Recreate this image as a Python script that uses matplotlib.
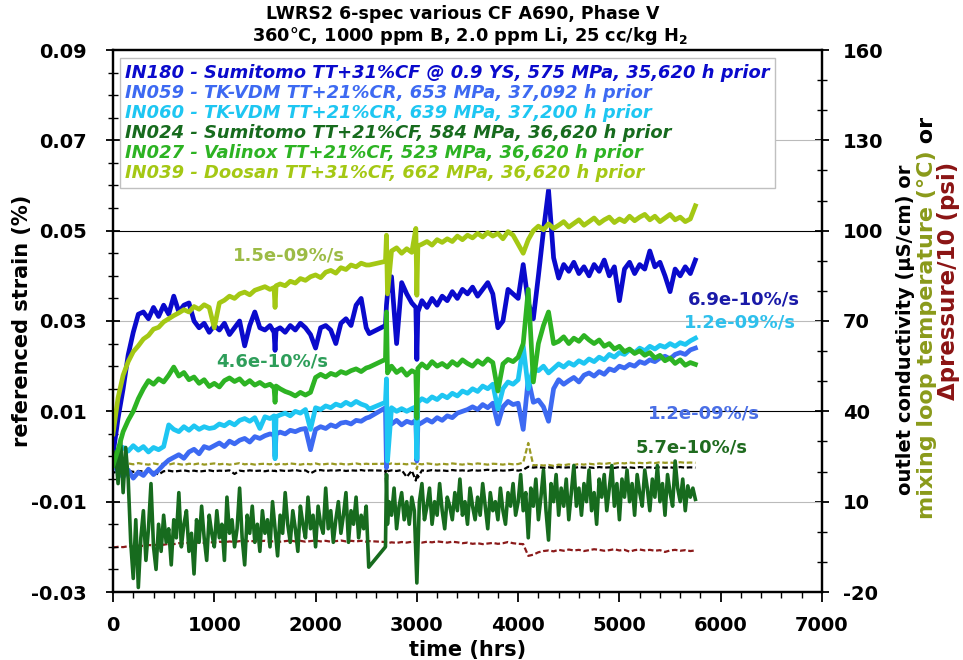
import matplotlib
matplotlib.use("Agg")
import matplotlib.pyplot as plt
from matplotlib.lines import Line2D
from matplotlib.ticker import MultipleLocator

plt.rcParams["font.family"] = ["DejaVu Sans"]
plt.rcParams["axes.unicode_minus"] = False

# ---------------------------------------------------------------- data
hours = [
    0, 50, 100, 150, 200, 250, 300, 350, 400, 450,
    500, 550, 600, 650, 700, 750, 800, 850, 900, 950,
    1000, 1050, 1100, 1150, 1200, 1250, 1300, 1350, 1400, 1450,
    1500, 1550, 1590, 1600, 1610, 1650, 1700, 1750, 1800, 1850,
    1900, 1950, 2000, 2050, 2100, 2150, 2200, 2250, 2300, 2350,
    2400, 2450, 2500, 2530, 2690, 2700, 2710, 2750, 2800, 2850,
    2900, 2950, 2990, 3000, 3010, 3050, 3100, 3150, 3200, 3250,
    3300, 3350, 3400, 3450, 3500, 3550, 3600, 3650, 3700, 3750,
    3800, 3850, 3900, 3950, 4000, 4050, 4100, 4150, 4200, 4250,
    4300, 4350, 4400, 4450, 4500, 4550, 4600, 4650, 4700, 4750,
    4800, 4850, 4900, 4950, 5000, 5050, 5100, 5150, 5200, 5250,
    5300, 5350, 5400, 5450, 5500, 5550, 5600, 5650, 5700, 5750,
]

# IN024 is logged on a finer time step
hours_in024 = [
    0, 25, 50, 75, 100, 125, 150, 175, 200, 225,
    250, 275, 300, 325, 350, 375, 400, 425, 450, 475,
    500, 525, 550, 575, 600, 625, 650, 675, 700, 725,
    750, 775, 800, 825, 850, 875, 900, 925, 950, 975,
    1000, 1025, 1050, 1075, 1100, 1125, 1150, 1175, 1200, 1225,
    1250, 1275, 1300, 1325, 1350, 1375, 1400, 1425, 1450, 1475,
    1500, 1525, 1550, 1575, 1600, 1625, 1650, 1675, 1700, 1725,
    1750, 1775, 1800, 1825, 1850, 1875, 1900, 1925, 1950, 1975,
    2000, 2025, 2050, 2075, 2100, 2125, 2150, 2175, 2200, 2225,
    2250, 2275, 2300, 2325, 2350, 2375, 2400, 2425, 2450, 2475,
    2500, 2525, 2690, 2700, 2710, 2725, 2750, 2775, 2800, 2825,
    2850, 2875, 2900, 2925, 2950, 2975, 3000, 3025, 3050, 3075,
    3100, 3125, 3150, 3175, 3200, 3225, 3250, 3275, 3300, 3325,
    3350, 3375, 3400, 3425, 3450, 3475, 3500, 3525, 3550, 3575,
    3600, 3625, 3650, 3675, 3700, 3725, 3750, 3775, 3800, 3825,
    3850, 3875, 3900, 3925, 3950, 3975, 4000, 4025, 4050, 4075,
    4100, 4125, 4150, 4175, 4200, 4225, 4250, 4275, 4300, 4325,
    4350, 4375, 4400, 4425, 4450, 4475, 4500, 4525, 4550, 4575,
    4600, 4625, 4650, 4675, 4700, 4725, 4750, 4775, 4800, 4825,
    4850, 4875, 4900, 4925, 4950, 4975, 5000, 5025, 5050, 5075,
    5100, 5125, 5150, 5175, 5200, 5225, 5250, 5275, 5300, 5325,
    5350, 5375, 5400, 5425, 5450, 5475, 5500, 5525, 5550, 5575,
    5600, 5625, 5650, 5675, 5700, 5725, 5750,
]

# referenced strain (%)
in180 = [
    0.0005, 0.0085, 0.0150, 0.0225, 0.0275, 0.0315, 0.0320, 0.0305, 0.0330, 0.0310,
    0.0335, 0.0315, 0.0355, 0.0320, 0.0335, 0.0340, 0.0300, 0.0285, 0.0295, 0.0275,
    0.0290, 0.0280, 0.0295, 0.0270, 0.0285, 0.0300, 0.0245, 0.0290, 0.0320, 0.0285,
    0.0280, 0.0290, 0.0275, 0.0235, 0.0280, 0.0285, 0.0275, 0.0290, 0.0280, 0.0295,
    0.0285, 0.0270, 0.0240, 0.0285, 0.0290, 0.0280, 0.0250, 0.0295, 0.0305, 0.0290,
    0.0335, 0.0350, 0.0285, 0.0272, 0.0290, 0.0335, 0.0360, 0.0398, 0.0250, 0.0385,
    0.0360, 0.0340, 0.0330, 0.0215, 0.0320, 0.0345, 0.0330, 0.0350, 0.0335, 0.0355,
    0.0345, 0.0365, 0.0350, 0.0370, 0.0360, 0.0375, 0.0355, 0.0370, 0.0385, 0.0360,
    0.0285, 0.0300, 0.0370, 0.0360, 0.0350, 0.0425, 0.0340, 0.0305, 0.0400, 0.0500,
    0.0590, 0.0440, 0.0395, 0.0425, 0.0410, 0.0430, 0.0405, 0.0420, 0.0400, 0.0425,
    0.0410, 0.0435, 0.0400, 0.0420, 0.0345, 0.0415, 0.0430, 0.0405, 0.0425, 0.0415,
    0.0455, 0.0420, 0.0430, 0.0400, 0.0365, 0.0415, 0.0400, 0.0420, 0.0405, 0.0435,
]
in059 = [
    -0.0015, -0.0035, -0.0045, -0.0030, -0.0048, -0.0035, -0.0042, -0.0028, -0.0040, -0.0030,
    -0.0018, -0.0008, -0.0002, 0.0004, -0.0004, 0.0010, 0.0016, 0.0006, 0.0022, 0.0018,
    0.0024, 0.0030, 0.0022, 0.0034, 0.0028, 0.0036, 0.0040, 0.0032, 0.0044, 0.0040,
    0.0046, 0.0050, 0.0048, 0.0000, 0.0050, 0.0054, 0.0050, 0.0058, 0.0055, 0.0060,
    0.0062, 0.0015, 0.0060, 0.0066, 0.0062, 0.0070, 0.0066, 0.0074, 0.0076, 0.0072,
    0.0080, 0.0078, 0.0085, 0.0087, 0.0108, -0.0025, 0.0080, 0.0072, 0.0080, 0.0070,
    0.0078, 0.0074, 0.0080, -0.0010, 0.0070, 0.0075, 0.0082, 0.0076, 0.0086, 0.0080,
    0.0090, 0.0086, 0.0096, 0.0100, 0.0104, 0.0110, 0.0104, 0.0115, 0.0108, 0.0118,
    0.0072, 0.0110, 0.0122, 0.0115, 0.0118, 0.0060, 0.0172, 0.0120, 0.0125, 0.0110,
    0.0078, 0.0150, 0.0170, 0.0160, 0.0168, 0.0175, 0.0165, 0.0180, 0.0185, 0.0178,
    0.0188, 0.0182, 0.0194, 0.0190, 0.0200, 0.0196, 0.0204, 0.0200, 0.0210, 0.0206,
    0.0214, 0.0210, 0.0218, 0.0222, 0.0216, 0.0226, 0.0230, 0.0226, 0.0236, 0.0240,
]
in060 = [
    0.0005, 0.0010, 0.0020, 0.0012, 0.0024, 0.0014, 0.0022, 0.0010, 0.0020, 0.0015,
    0.0022, 0.0070, 0.0060, 0.0055, 0.0066, 0.0058, 0.0068, 0.0060, 0.0066, 0.0062,
    0.0064, 0.0072, 0.0068, 0.0076, 0.0070, 0.0080, 0.0084, 0.0078, 0.0086, 0.0062,
    0.0088, 0.0084, 0.0090, -0.0005, 0.0088, 0.0092, 0.0096, 0.0090, 0.0100, 0.0096,
    0.0104, 0.0060, 0.0108, 0.0104, 0.0112, 0.0108, 0.0116, 0.0112, 0.0120, 0.0114,
    0.0122, 0.0116, 0.0112, 0.0105, 0.0120, 0.0172, -0.0010, 0.0108, 0.0100, 0.0106,
    0.0100, 0.0106, 0.0110, -0.0005, 0.0120, 0.0128, 0.0122, 0.0132, 0.0126, 0.0136,
    0.0130, 0.0140, 0.0134, 0.0145, 0.0140, 0.0150, 0.0144, 0.0156, 0.0150, 0.0160,
    0.0105, 0.0150, 0.0165, 0.0160, 0.0170, 0.0245, 0.0150, 0.0195, 0.0190, 0.0200,
    0.0185, 0.0195, 0.0205, 0.0198, 0.0208, 0.0202, 0.0212, 0.0206, 0.0216, 0.0210,
    0.0220, 0.0214, 0.0226, 0.0220, 0.0230, 0.0226, 0.0236, 0.0230, 0.0240, 0.0234,
    0.0244, 0.0238, 0.0246, 0.0242, 0.0250, 0.0244, 0.0252, 0.0248, 0.0256, 0.0262,
]
in024 = [
    -0.0020, 0.0010, -0.0060, 0.0040, -0.0080, 0.0020, -0.0050, -0.0190, -0.0270, -0.0140,
    -0.0290, -0.0180, -0.0120, -0.0230, -0.0160, -0.0060, -0.0200, -0.0250, -0.0150, -0.0210,
    -0.0130, -0.0190, -0.0160, -0.0240, -0.0140, -0.0180, -0.0080, -0.0200, -0.0150, -0.0120,
    -0.0210, -0.0170, -0.0260, -0.0140, -0.0190, -0.0110, -0.0180, -0.0230, -0.0130, -0.0170,
    -0.0200, -0.0120, -0.0180, -0.0150, -0.0230, -0.0090, -0.0170, -0.0140, -0.0200, -0.0160,
    -0.0070, -0.0180, -0.0240, -0.0130, -0.0170, -0.0110, -0.0190, -0.0150, -0.0210, -0.0120,
    -0.0170, -0.0140, -0.0200, -0.0100, -0.0160, -0.0220, -0.0130, -0.0170, -0.0080, -0.0150,
    -0.0190, -0.0120, -0.0160, -0.0210, -0.0110, -0.0150, -0.0180, -0.0090, -0.0160, -0.0130,
    -0.0200, -0.0110, -0.0150, -0.0170, -0.0070, -0.0160, -0.0120, -0.0190, -0.0140, -0.0100,
    -0.0170, -0.0130, -0.0080, -0.0190, -0.0120, -0.0150, -0.0090, -0.0180, -0.0130, -0.0160,
    -0.0110, -0.0245, -0.0200, -0.0040, -0.0150, -0.0100, -0.0130, -0.0070, -0.0160, -0.0110,
    -0.0080, -0.0140, -0.0100, -0.0150, -0.0090, -0.0120, -0.0280, -0.0100, -0.0060, -0.0140,
    -0.0110, -0.0070, -0.0150, -0.0100, -0.0130, -0.0060, -0.0120, -0.0160, -0.0090, -0.0110,
    -0.0140, -0.0080, -0.0120, -0.0050, -0.0130, -0.0100, -0.0150, -0.0070, -0.0110, -0.0140,
    -0.0090, -0.0130, -0.0060, -0.0110, -0.0160, -0.0080, -0.0120, -0.0100, -0.0140, -0.0070,
    -0.0120, -0.0150, -0.0080, -0.0110, -0.0060, -0.0130, -0.0100, -0.0040, -0.0120, -0.0080,
    -0.0180, -0.0070, -0.0110, -0.0050, -0.0140, -0.0090, -0.0030, -0.0120, -0.0185, -0.0060,
    -0.0100, -0.0040, -0.0130, -0.0070, -0.0110, -0.0050, -0.0140, -0.0080, -0.0020, -0.0110,
    -0.0070, -0.0130, -0.0060, -0.0100, -0.0030, -0.0120, -0.0080, -0.0150, -0.0050, -0.0090,
    -0.0040, -0.0120, -0.0070, -0.0020, -0.0110, -0.0060, -0.0140, -0.0050, -0.0090, -0.0030,
    -0.0100, -0.0060, -0.0130, -0.0040, -0.0080, -0.0110, -0.0030, -0.0070, -0.0120, -0.0050,
    -0.0090, -0.0020, -0.0100, -0.0060, -0.0130, -0.0040, -0.0080, -0.0110, -0.0010, -0.0070,
    -0.0100, -0.0050, -0.0120, -0.0065, -0.0090, -0.0070, -0.0095,
]
in027 = [
    -0.0020, 0.0015, 0.0055, 0.0080, 0.0100, 0.0128, 0.0150, 0.0168, 0.0160, 0.0172,
    0.0165, 0.0180, 0.0198, 0.0178, 0.0186, 0.0170, 0.0176, 0.0162, 0.0170, 0.0155,
    0.0162, 0.0154, 0.0168, 0.0174, 0.0166, 0.0172, 0.0160, 0.0168, 0.0158, 0.0164,
    0.0156, 0.0160, 0.0152, 0.0120, 0.0156, 0.0150, 0.0144, 0.0140, 0.0134, 0.0142,
    0.0136, 0.0142, 0.0175, 0.0182, 0.0176, 0.0184, 0.0180, 0.0188, 0.0184, 0.0190,
    0.0194, 0.0188, 0.0196, 0.0198, 0.0215, 0.0320, 0.0185, 0.0200, 0.0186, 0.0194,
    0.0180, 0.0190, 0.0185, 0.0085, 0.0195, 0.0205, 0.0196, 0.0210, 0.0200, 0.0206,
    0.0198, 0.0210, 0.0202, 0.0214, 0.0206, 0.0200, 0.0212, 0.0204, 0.0216, 0.0208,
    0.0145, 0.0205, 0.0215, 0.0210, 0.0220, 0.0250, 0.0370, 0.0165, 0.0250, 0.0290,
    0.0320, 0.0250, 0.0255, 0.0265, 0.0250, 0.0262, 0.0255, 0.0268, 0.0258, 0.0250,
    0.0258, 0.0244, 0.0250, 0.0238, 0.0244, 0.0232, 0.0238, 0.0228, 0.0234, 0.0224,
    0.0230, 0.0218, 0.0224, 0.0212, 0.0218, 0.0206, 0.0214, 0.0202, 0.0208, 0.0204,
]
in039 = [
    0.0050, 0.0130, 0.0180, 0.0210, 0.0232, 0.0245, 0.0260, 0.0268, 0.0282, 0.0286,
    0.0298, 0.0305, 0.0312, 0.0318, 0.0325, 0.0320, 0.0332, 0.0326, 0.0336, 0.0330,
    0.0285, 0.0340, 0.0346, 0.0355, 0.0350, 0.0360, 0.0364, 0.0358, 0.0368, 0.0372,
    0.0376, 0.0370, 0.0374, 0.0330, 0.0378, 0.0382, 0.0378, 0.0388, 0.0384, 0.0394,
    0.0390, 0.0398, 0.0402, 0.0396, 0.0408, 0.0412, 0.0406, 0.0418, 0.0414, 0.0424,
    0.0420, 0.0428, 0.0424, 0.0424, 0.0432, 0.0490, 0.0360, 0.0455, 0.0462, 0.0450,
    0.0460, 0.0452, 0.0505, 0.0357, 0.0466, 0.0470, 0.0476, 0.0468, 0.0480, 0.0474,
    0.0482, 0.0476, 0.0488, 0.0480, 0.0490, 0.0484, 0.0494, 0.0486, 0.0496, 0.0488,
    0.0494, 0.0482, 0.0498, 0.0490, 0.0470, 0.0450, 0.0480, 0.0500, 0.0510, 0.0502,
    0.0515, 0.0505, 0.0512, 0.0520, 0.0508, 0.0516, 0.0524, 0.0512, 0.0520, 0.0528,
    0.0516, 0.0524, 0.0530, 0.0518, 0.0526, 0.0520, 0.0532, 0.0522, 0.0530, 0.0536,
    0.0524, 0.0532, 0.0520, 0.0528, 0.0536, 0.0524, 0.0530, 0.0520, 0.0526, 0.0555,
]

# loop monitors (right axis)
conductivity = [
    19.6, 20.1, 19.8, 20.3, 19.9, 20.2, 20.0, 20.3, 19.9, 19.0,
    20.1, 20.3, 20.0, 20.2, 20.4, 20.1, 20.3, 20.0, 20.2, 20.4,
    20.1, 20.3, 20.2, 20.4, 19.2, 20.3, 20.1, 20.4, 20.2, 20.3,
    20.1, 20.4, 20.2, 20.3, 20.1, 20.4, 20.2, 20.3, 20.5, 20.2,
    20.4, 19.4, 20.3, 20.5, 20.2, 20.4, 20.3, 20.5, 20.2, 20.4,
    20.3, 20.5, 20.2, 20.4, 20.3, 13.5, 20.1, 20.4, 20.2, 20.5,
    18.2, 20.3, 17.0, 19.2, 18.0, 20.4, 20.2, 20.5, 20.3, 20.4,
    20.2, 20.5, 20.3, 20.4, 20.2, 20.5, 20.3, 20.4, 20.6, 20.3,
    20.5, 20.3, 20.4, 20.6, 20.3, 20.6, 21.6, 21.3, 21.5, 21.2,
    21.4, 21.2, 21.5, 21.3, 21.4, 21.2, 21.5, 21.3, 21.4, 21.2,
    21.5, 21.3, 21.4, 21.2, 21.5, 21.3, 21.4, 21.2, 21.5, 21.3,
    21.4, 21.2, 21.5, 21.3, 21.4, 21.2, 21.5, 21.3, 21.4, 21.3,
]
mix_temp = [
    22.0, 22.6, 22.3, 22.7, 22.4, 22.8, 22.5, 22.3, 22.7, 22.4,
    22.6, 22.3, 22.7, 22.5, 22.2, 22.6, 22.4, 22.7, 22.3, 22.5,
    22.7, 22.4, 22.6, 22.3, 22.5, 22.8, 22.4, 22.6, 22.3, 22.5,
    22.6, 22.4, 22.7, 22.5, 22.3, 22.6, 22.4, 22.7, 22.5, 22.3,
    22.6, 22.4, 22.7, 22.3, 22.5, 22.7, 22.4, 22.6, 22.3, 22.5,
    22.7, 22.4, 22.6, 22.5, 22.6, 20.5, 22.4, 22.7, 22.5, 22.6,
    22.4, 22.7, 22.5, 20.8, 22.6, 22.4, 22.7, 22.5, 22.3, 22.6,
    22.4, 22.7, 22.5, 22.3, 22.6, 22.4, 22.7, 22.5, 22.3, 22.6,
    22.5, 22.3, 22.6, 22.4, 22.5, 23.0, 29.5, 22.0, 22.2, 22.0,
    22.2, 21.9, 22.3, 22.1, 22.4, 22.2, 22.5, 22.3, 22.6, 22.4,
    22.7, 22.5, 22.8, 22.6, 22.9, 22.7, 23.0, 22.8, 22.9, 22.7,
    23.0, 22.8, 23.1, 22.9, 23.0, 22.8, 23.1, 22.9, 23.0, 22.9,
]
dpressure = [
    -5.2, -5.0, -5.1, -4.8, -4.9, -4.6, -4.7, -4.4, -4.5, -4.2,
    -4.3, -4.0, -4.1, -3.8, -3.9, -3.6, -3.8, -3.5, -3.7, -3.4,
    -3.6, -3.3, -3.5, -3.2, -3.4, -3.1, -3.3, -3.0, -3.2, -3.1,
    -3.0, -3.3, -3.1, -3.2, -3.0, -3.3, -3.1, -2.9, -3.2, -3.0,
    -3.3, -3.1, -2.9, -3.2, -3.0, -3.3, -3.1, -2.9, -3.2, -3.0,
    -3.2, -3.0, -3.3, -3.1, -3.4, -3.6, -3.8, -3.5, -3.7, -3.4,
    -3.6, -3.3, -3.5, -3.7, -3.4, -3.6, -3.3, -3.5, -3.2, -3.4,
    -3.6, -3.3, -3.5, -3.8, -3.6, -4.0, -3.8, -4.1, -3.9, -3.7,
    -4.0, -3.8, -3.4, -3.8, -4.0, -4.1, -8.0, -7.6, -6.8, -6.4,
    -6.2, -6.5, -6.0, -6.3, -5.9, -6.2, -6.0, -6.4, -6.1, -5.8,
    -6.0, -6.3, -6.1, -5.8, -6.2, -6.0, -6.6, -6.1, -5.9, -6.2,
    -6.0, -6.3, -6.1, -6.7, -6.2, -6.0, -6.3, -6.1, -6.4, -6.2,
]

labels = [
    "IN180 - Sumitomo TT+31%CF @ 0.9 YS, 575 MPa, 35,620 h prior",
    "IN059 - TK-VDM TT+21%CR, 653 MPa, 37,092 h prior",
    "IN060 - TK-VDM TT+21%CR, 639 MPa, 37,200 h prior",
    "IN024 - Sumitomo TT+21%CF, 584 MPa, 36,620 h prior",
    "IN027 - Valinox TT+21%CF, 523 MPa, 36,620 h prior",
    "IN039 - Doosan TT+31%CF, 662 MPa, 36,620 h prior",
]
series_hours = [hours, hours, hours, hours_in024, hours, hours]
series = [in180, in059, in060, in024, in027, in039]
colors = ["#0A0ACC", "#3D6AF2", "#1EC6F2", "#176B1E", "#2DB323", "#A4C814"]
widths = [3.4, 3.4, 3.4, 2.6, 3.4, 3.4]

rate_labels = ["1.5e-09%/s", "4.6e-10%/s", "6.9e-10%/s", "1.2e-09%/s", "1.2e-09%/s", "5.7e-10%/s"]
rate_pos = [(1185, 0.0444), (1017, 0.0211), (5677, 0.0347), (5637, 0.0296), (5282, 0.0096), (5164, 0.0021)]
rate_colors = ["#9CBB45", "#2E9E5A", "#1A1AA8", "#2FC0EC", "#4A6FE6", "#1F6B1F"]

strain_ticks = [-0.03, -0.01, 0.01, 0.03, 0.05, 0.07, 0.09]
right_ticks = [-20, 10, 40, 70, 100, 130, 160]
time_ticks = [0, 1000, 2000, 3000, 4000, 5000, 6000, 7000]

# ---------------------------------------------------------------- figure
W, H = 963, 660
fig = plt.figure(figsize=(W / 100, H / 100), dpi=100)
ax = fig.add_axes([113 / W, (H - 592) / H, 709 / W, 542 / H])
ax2 = ax.twinx()
ax2.set_zorder(ax.get_zorder() - 1)
ax.patch.set_visible(False)
ax2.patch.set_facecolor("white")

# loop monitors, drawn underneath the strain traces
dash = (0, (2.5, 1.2))
ax2.plot(hours, mix_temp, color="#999922", lw=1.6, ls=dash)
ax2.plot(hours, conductivity, color="black", lw=1.6, ls=dash)
ax2.plot(hours, dpressure, color="#8B1A1A", lw=1.6, ls=dash)
ax2.set_ylim(-20, 160)

for t, vals, col, lw in zip(series_hours, series, colors, widths):
    ax.plot(t, vals, color=col, lw=lw, solid_joinstyle="round")

ax.set_xlim(0, 7000)
ax.set_ylim(-0.03, 0.09)

# grid
for yv in strain_ticks[1:-1]:
    gc = "black" if yv in (0.05, 0.01) else "#BBBBBB"
    ax.axhline(yv, color=gc, lw=0.8, zorder=0.5)

# ticks
tick_font = dict(fontsize=14, fontweight="bold")
ax.set_xticks(time_ticks, [str(t) for t in time_ticks], **tick_font)
ax.xaxis.set_minor_locator(MultipleLocator(200))
ax.set_yticks(strain_ticks, [f"{v:.2f}" for v in strain_ticks], **tick_font)
ax.yaxis.set_minor_locator(MultipleLocator(0.005))
ax2.set_yticks(right_ticks, [str(v) for v in right_ticks], **tick_font)
ax2.yaxis.set_minor_locator(MultipleLocator(10))

ax.tick_params(axis="x", which="major", direction="out", length=7, width=1.3, pad=10)
ax.tick_params(axis="x", which="minor", direction="out", length=4, width=1.0)
ax.tick_params(axis="y", which="major", direction="inout", length=10, width=1.3, pad=14)
ax.tick_params(axis="y", which="minor", direction="inout", length=7, width=1.0)
ax2.tick_params(axis="y", which="major", direction="inout", length=10, width=1.3, pad=10)
ax2.tick_params(axis="y", which="minor", direction="inout", length=7, width=1.0)

for a in (ax, ax2):
    for sp in a.spines.values():
        sp.set_linewidth(1.6)
        sp.set_color("black")

# axis labels
ax.set_xlabel("time (hrs)", fontsize=15, fontweight="bold", va="center")
ax.xaxis.set_label_coords(0.5, -0.107)
ax.set_ylabel("referenced strain (%)", fontsize=15, fontweight="bold", va="center")
ax.yaxis.set_label_coords(-0.128, 0.5)

# title
fig.text(463 / W, 1 - 14 / H, "LWRS2 6-spec various CF A690, Phase V",
         ha="center", va="center", fontsize=12.5, fontweight="bold")
fig.text(470 / W, 1 - 36 / H, r"360°C, 1000 ppm B, 2.0 ppm Li, 25 cc/kg H$_\mathbf{2}$",
         ha="center", va="center", fontsize=12.8, fontweight="bold")

# legend (coloured text only)
handles = [Line2D([], [], lw=0) for _ in labels]
leg = ax.legend(handles, labels, loc="upper left", bbox_to_anchor=(0.0099, 0.985),
                handlelength=0, handletextpad=0, labelspacing=0.12, borderpad=0.3,
                borderaxespad=0, fancybox=False, framealpha=1, edgecolor="#C0C0C0",
                prop=dict(size=12.9, weight="bold", style="italic"))
leg.get_frame().set_linewidth(1.0)
for txt, col in zip(leg.get_texts(), colors):
    txt.set_color(col)

# creep-rate annotations
for s, (tx, ty), col in zip(rate_labels, rate_pos, rate_colors):
    ax.text(tx, ty, s, color=col, fontsize=13, fontweight="bold", ha="left", va="center", zorder=5)

# right-hand multi-colour axis label
fig.canvas.draw()
renderer = fig.canvas.get_renderer()


def vertical_label(x_px, yc_px, pieces, size):
    objs = []
    for s, col in pieces:
        objs.append(fig.text(0, 0, s, rotation=90, rotation_mode="anchor", ha="left",
                             va="baseline", color=col, fontsize=size, fontweight="bold"))
    heights = [o.get_window_extent(renderer).height for o in objs]
    y = (H - yc_px) - sum(heights) / 2
    for o, h in zip(objs, heights):
        o.set_position((x_px / W, y / H))
        y += h


vertical_label(911, 330, [("outlet conductivity (µS/cm) or", "black")], 14)
vertical_label(933, 318, [("mixing loop temperature (°C)", "#8A9A1A"), (" or", "black")], 16)
vertical_label(955, 281, [("Δpressure/10 (psi)", "#8B1414")], 16.5)

fig.savefig("out.png", dpi=100)
